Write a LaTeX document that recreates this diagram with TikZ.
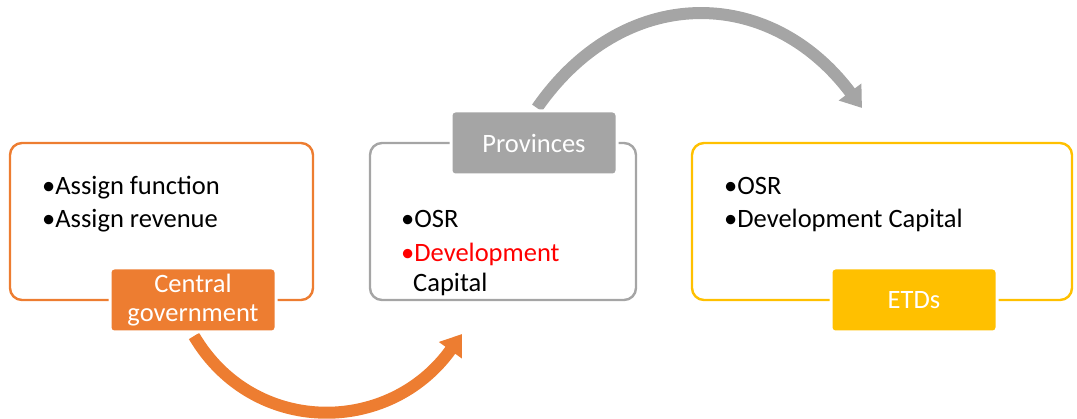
\documentclass[tikz,border=0pt]{standalone}
\usepackage{fontspec}
\setmainfont{Carlito}
\usetikzlibrary{arrows.meta}
\definecolor{orng}{HTML}{ED7D31}
\definecolor{gry}{HTML}{A5A5A5}
\definecolor{ylw}{HTML}{FFC000}
\definecolor{rd}{HTML}{FF0000}
\begin{document}
\begin{tikzpicture}[x=1pt,y=-1pt,
  frame/.style={draw=#1, line width=2.4pt, rounded corners=12pt, inner sep=0pt},
  tag/.style={fill=#1, draw=white, line width=3pt, rounded corners=4pt, text=white,
    font=\fontsize{26.5}{29}\selectfont, align=center, inner sep=0pt,
    minimum width=166pt, minimum height=64pt},
  txt/.style={anchor=base west, inner sep=0pt, font=\fontsize{26.5}{30}\selectfont},
  bigarrow/.style={draw=#1, line width=12pt, -{Triangle[length=20pt,width=27pt]}}]
\useasboundingbox (0,0) rectangle (1077,419);

% frames
\node[frame=orng, minimum width=303pt, minimum height=157pt] (cgbox) at (161.5,221.5) {};
\node[frame=gry, minimum width=266pt, minimum height=157pt] (prbox) at (503,221.5) {};
\node[frame=ylw, minimum width=380pt, minimum height=157pt] (etbox) at (882,221.5) {};

% arrow end points
\coordinate (oend) at (462,334);
\coordinate (gend) at (862,108);
\coordinate (ostart) at (194,336);
\coordinate (gstart) at (537,108);

% arrows
\draw[bigarrow=orng] (ostart) .. controls (253,436) and (389,436) .. (oend);
\draw[bigarrow=gry] (gstart) .. controls (623,-16) and (769,-16) .. (gend);

% tags
\node[tag=orng] (cg) at (193,300) {Central\\government};
\node[tag=gry] (pr) at (534,143) {Provinces};
\node[tag=ylw] (et) at (914,300) {ETDs};

% texts
\node[txt] (cg1) at (42,195) {•Assign function};
\node[txt] (cg2) at (42,228) {•Assign revenue};
\node[txt] (pr1) at (401,228) {•OSR};
\node[txt, text=rd] (pr2) at (401,262) {•Development};
\node[txt] (pr3) at (413,292) {Capital};
\node[txt] (et1) at (724,195) {•OSR};
\node[txt] (et2) at (724,228) {•Development Capital};
\end{tikzpicture}
\end{document}
